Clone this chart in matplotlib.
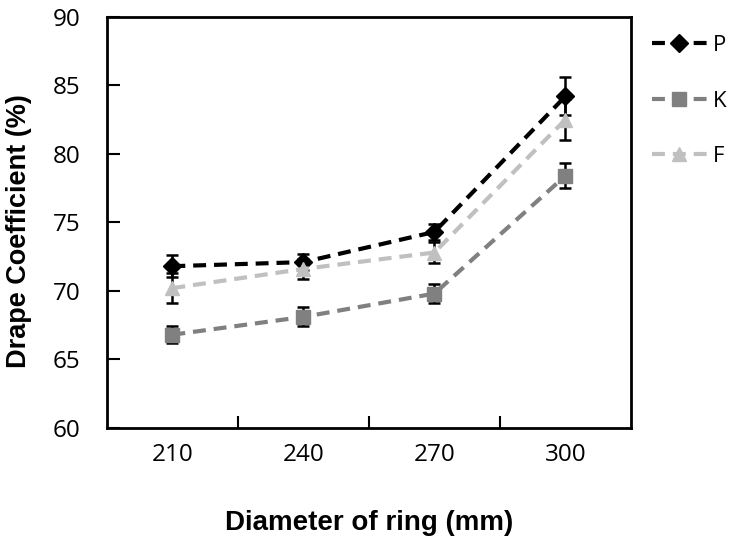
import matplotlib
matplotlib.use("Agg")
import matplotlib.pyplot as plt
import numpy as np

categories = ["210", "240", "270", "300"]
series_names = ["P", "K", "F"]
P_values = [71.8, 72.1, 74.3, 84.2]
K_values = [66.8, 68.1, 69.8, 78.4]
F_values = [70.2, 71.6, 72.8, 82.5]
P_err = [0.8, 0.6, 0.6, 1.4]
K_err = [0.6, 0.7, 0.7, 0.9]
F_err = [1.1, 0.7, 0.8, 1.5]
y_ticks = [60, 65, 70, 75, 80, 85, 90]

fig = plt.figure(figsize=(7.37, 5.43), dpi=100)
ax = fig.add_axes([0.145, 0.212, 0.711, 0.757])

x = np.arange(len(categories))
styles = [
    (P_values, P_err, "#000000", "D", 9),
    (K_values, K_err, "#808080", "s", 10),
    (F_values, F_err, "#c0c0c0", "^", 10),
]
handles = []
for name, (vals, err, col, mk, ms) in zip(series_names, styles):
    ax.errorbar(x, vals, yerr=err, fmt="none", ecolor="black", elinewidth=1.8,
                capsize=4.5, capthick=1.8, zorder=2)
    h, = ax.plot(x, vals, color=col, lw=3, ls=(0, (3.1, 1.9)), marker=mk,
                 markersize=ms, markerfacecolor=col, markeredgecolor=col,
                 zorder=3, label=name)
    handles.append(h)

ax.set_xlim(-0.5, len(categories) - 0.5)
ax.set_ylim(60, 90)
ax.set_yticks(y_ticks)
ax.set_xticks(x)
ax.set_xticklabels(categories)
ax.set_xticks(np.arange(0.5, len(categories) - 1, 1), minor=True)
ax.tick_params(axis="x", which="major", length=0, pad=11)
ax.tick_params(axis="x", which="minor", direction="in", length=9, width=1.5)
ax.tick_params(axis="y", direction="in", length=9, width=1.5, pad=19)
ax.tick_params(labelsize=17.5)
for lab in ax.get_xticklabels() + ax.get_yticklabels():
    lab.set_fontfamily("Open Sans")
for sp in ax.spines.values():
    sp.set_linewidth(2)

ax.set_xlabel("Diameter of ring (mm)", fontsize=20, fontweight="bold",
              fontfamily="Liberation Sans", labelpad=31)
ax.set_ylabel("Drape Coefficient (%)", fontsize=19.5, fontweight="bold",
              fontfamily="Liberation Sans")
ax.yaxis.set_label_coords(-0.143, 0.48)

leg = ax.legend(handles=handles, loc="upper left", bbox_to_anchor=(1.01, 0.993),
                frameon=False, fontsize=16, handlelength=2.5, handletextpad=0.25,
                labelspacing=1.55, borderaxespad=0.3)
for t in leg.get_texts():
    t.set_fontfamily("Open Sans")

fig.savefig("out.png", dpi=100)
